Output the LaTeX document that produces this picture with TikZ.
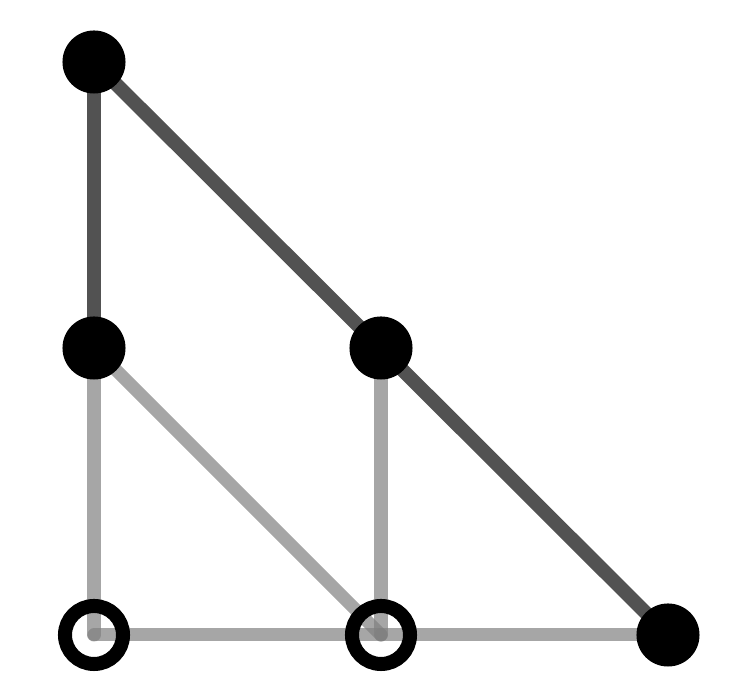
\documentclass[tikz,border=0pt]{standalone}
\begin{document}
\begin{tikzpicture}[x=0.01cm,y=-0.01cm,
  darkedge/.style={draw=black!68, line width=0.14cm, line cap=round},
  lightedge/.style={draw=gray, draw opacity=0.7, line width=0.13cm, line cap=round},
  fullpt/.style={circle, fill=black, minimum size=0.63cm, inner sep=0pt},
  openpt/.style={circle, draw=black, line width=0.14cm, fill=none, minimum size=0.58cm, inner sep=0pt}]
\useasboundingbox (0,0) rectangle (745,692);
\coordinate (A) at (94,62);
\coordinate (B) at (94,348);
\coordinate (C) at (381,348);
\coordinate (D) at (94,635);
\coordinate (E) at (381,635);
\coordinate (F) at (668,635);
\draw[lightedge] (B) -- (D);
\draw[lightedge] (B) -- (E);
\draw[lightedge] (C) -- (E);
\draw[lightedge] (D) -- (E);
\draw[lightedge] (E) -- (F);
\draw[darkedge] (A) -- (B);
\draw[darkedge] (A) -- (F);
\node[fullpt] (nA) at (A) {};
\node[fullpt] (nB) at (B) {};
\node[fullpt] (nC) at (C) {};
\node[fullpt] (nF) at (F) {};
\node[openpt] (nD) at (D) {};
\node[openpt] (nE) at (E) {};
\end{tikzpicture}
\end{document}
